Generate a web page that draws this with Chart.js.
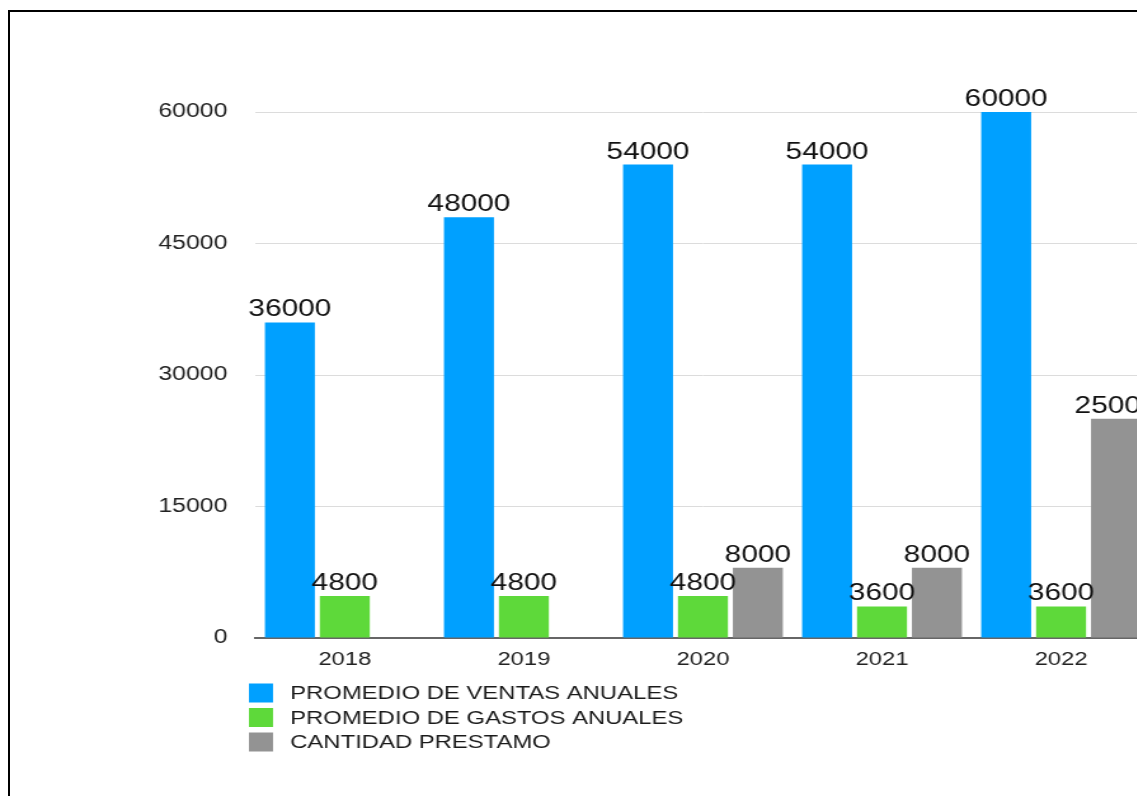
<!DOCTYPE html>
<html lang="es">
<head>
<meta charset="utf-8">
<title>Ventas, gastos y préstamo por año</title>
<script src="https://cdn.jsdelivr.net/npm/chart.js@4.4.1/dist/chart.umd.min.js"></script>
<style>
  html, body { margin: 0; padding: 0; background: #fff; overflow: hidden; width: 1137px; height: 796px; }
  #frame { position: absolute; left: 8px; top: 10px; width: 2000px; height: 2000px; border: 2px solid #000; box-sizing: border-box; }
  #wrap { position: absolute; left: 0; top: 0; transform: scaleX(1.27); transform-origin: 0 0; }
  #wrap canvas { display: block; }
</style>
</head>
<body>
<div id="frame"></div>
<div id="wrap"><canvas id="barChart" width="906" height="796"></canvas></div>
<script>
const years = ["2018", "2019", "2020", "2021", "2022"];
const seriesNames = ["PROMEDIO DE VENTAS ANUALES", "PROMEDIO DE GASTOS ANUALES", "CANTIDAD PRESTAMO"];
const ventas = [36000, 48000, 54000, 54000, 60000];
const gastos = [4800, 4800, 4800, 3600, 3600];
const prestamo = [null, null, 8000, 8000, 25000];
const yTicks = [0, 15000, 30000, 45000, 60000];

const colors = ["#00a0ff", "#5ed93a", "#939393"];
const FONT = '"Liberation Sans", Arial, Helvetica, sans-serif';

// value printed above every bar
const barValues = {
  id: "barValues",
  afterDatasetsDraw(chart) {
    const ctx = chart.ctx;
    ctx.save();
    ctx.font = `23.5px ${FONT}`;
    ctx.fillStyle = "#111";
    ctx.textAlign = "center";
    ctx.textBaseline = "alphabetic";
    chart.data.datasets.forEach((ds, i) => {
      chart.getDatasetMeta(i).data.forEach((bar, j) => {
        const v = ds.data[j];
        if (v == null) return;
        ctx.fillText(String(v), bar.x, bar.y - 6);
      });
    });
    ctx.restore();
  }
};

// stacked legend under the x axis
const legendList = {
  id: "legendList",
  afterDraw(chart) {
    const ctx = chart.ctx;
    ctx.save();
    ctx.font = `18.8px ${FONT}`;
    ctx.textBaseline = "middle";
    ctx.textAlign = "left";
    chart.data.datasets.forEach((ds, i) => {
      const y = 693 + i * 24.5;
      ctx.fillStyle = ds.backgroundColor;
      ctx.fillRect(196, y - 9.5, 19, 19);
      ctx.fillStyle = "#1a1a1a";
      ctx.fillText(ds.label, 228.5, y + 1);
    });
    ctx.restore();
  }
};

new Chart(document.getElementById("barChart"), {
  type: "bar",
  data: {
    labels: years,
    datasets: [ventas, gastos, prestamo].map((values, i) => ({
      label: seriesNames[i],
      data: values,
      backgroundColor: colors[i],
      borderWidth: 0,
      categoryPercentage: 0.92,
      barPercentage: 0.91
    }))
  },
  options: {
    responsive: false,
    animation: false,
    devicePixelRatio: 1,
    layout: { padding: { top: 112, right: 0, bottom: 116, left: 0 } },
    plugins: {
      legend: { display: false },
      tooltip: { enabled: false }
    },
    scales: {
      x: {
        grid: { display: false, drawTicks: false },
        border: { display: true, color: "#666", width: 2 },
        ticks: { color: "#222", padding: 11, font: { family: FONT, size: 18.75 } },
        afterFit(scale) { scale.height = 42; }
      },
      y: {
        min: yTicks[0],
        max: yTicks[yTicks.length - 1],
        afterBuildTicks(scale) { scale.ticks = yTicks.map((v) => ({ value: v })); },
        grid: {
          drawTicks: false,
          color: (c) => (c.tick && c.tick.value === 0 ? "rgba(0,0,0,0)" : "#dcdcdc"),
          lineWidth: 1
        },
        border: { display: false },
        ticks: {
          color: "#222",
          padding: 22,
          font: { family: FONT, size: 19.5 },
          callback: (v) => String(v)
        },
        afterFit(scale) { scale.width = 201; }
      }
    }
  },
  plugins: [barValues, legendList]
});
</script>
</body>
</html>
